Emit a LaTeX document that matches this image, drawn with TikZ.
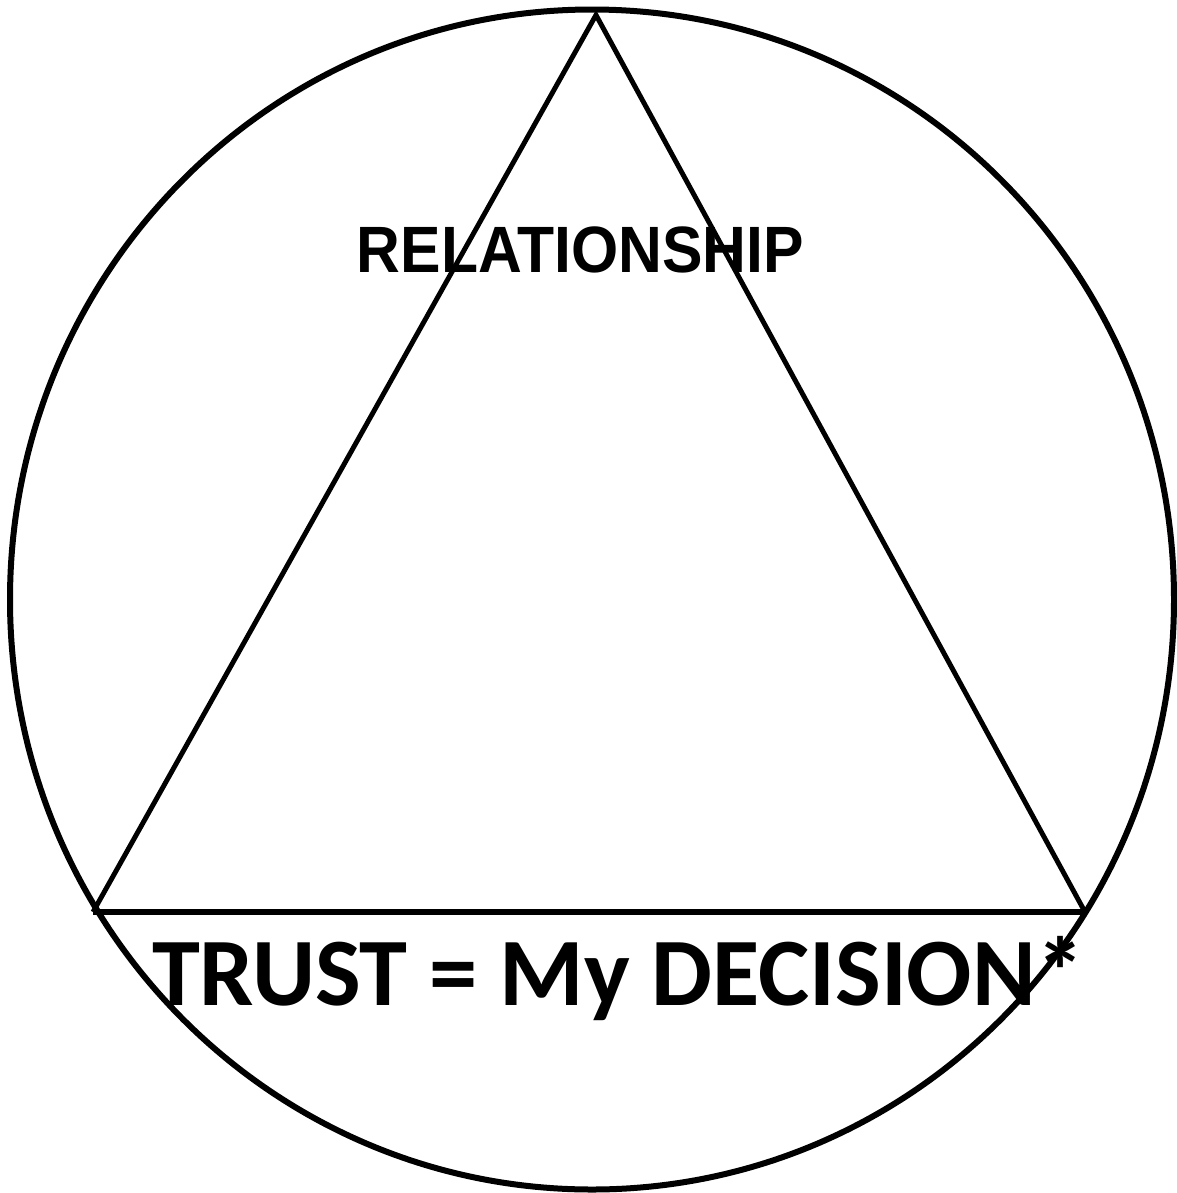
\documentclass[tikz,border=0pt]{standalone}
\usepackage{fontspec}
\newfontfamily\arialbold{Liberation Sans}
\newfontfamily\calibri{Carlito}

\begin{document}
\tikzset{every picture/.style={line width=0.75pt}}

\begin{tikzpicture}[x=0.75pt,y=0.75pt,yscale=-1,xscale=1]
\useasboundingbox (0,0) rectangle (1177,1193);

%Shape: Circle [id:outer]
\draw [line width=4.5]  (592,599.5) ellipse [x radius=582, y radius=590] ;

%Triangle corners
\coordinate (apex) at (596,15) ;
\coordinate (left) at (93,912) ;
\coordinate (right) at (1085,912) ;

%Straight Lines [id:sides]
\draw [line width=3.7]  (left) -- (apex) -- (right) ;
%Straight Lines [id:base]
\draw [line width=4.3]  (left) -- (right) ;

% Text Node
\draw (580.5,272) node (rel) [anchor=base][inner sep=0.75pt]   [align=center] {\arialbold\bfseries\fontsize{45.5}{50}\selectfont\scalebox{1}[1.08]{RELATIONSHIP}};
% Text Node
\draw (618,1005) node (trust) [anchor=base][inner sep=0.75pt]   [align=center] {\calibri\bfseries\fontsize{72.5}{80}\selectfont TRUST = My DECISION*};

\end{tikzpicture}
\end{document}
